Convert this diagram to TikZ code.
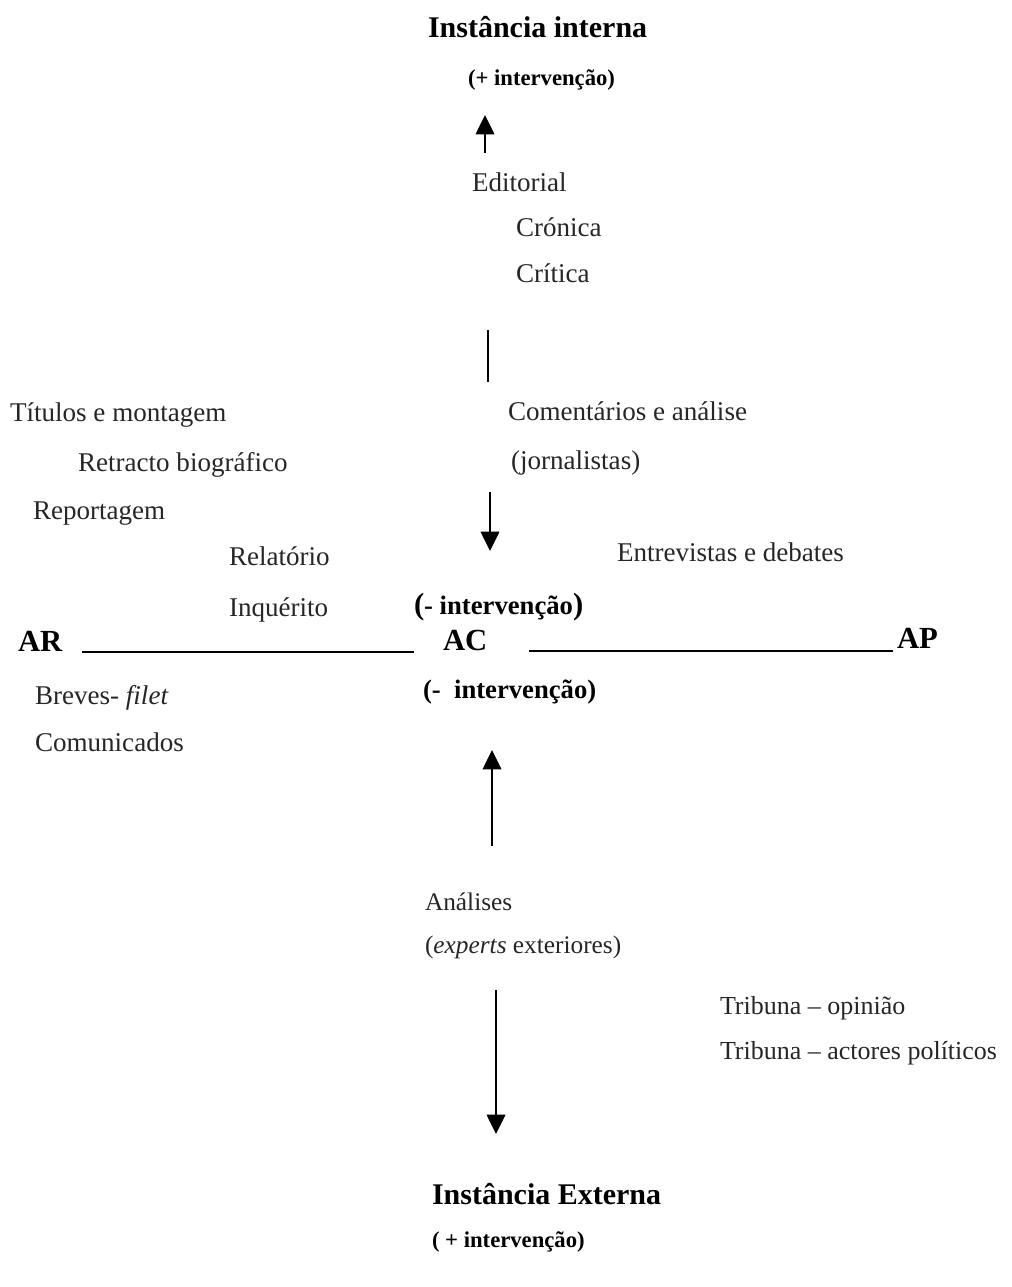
\documentclass[tikz,border=0pt]{standalone}
\usepackage{fontspec}
\setmainfont{Liberation Serif}
\usetikzlibrary{arrows.meta}
\begin{document}
\begin{tikzpicture}[x=0.75pt,y=-0.75pt,
  every node/.style={inner sep=0pt,outer sep=0pt,anchor=base west},
  body/.style={font=\fontsize{20.3}{24}\selectfont,text=black!85},
  head/.style={font=\fontsize{22.5}{26}\selectfont\bfseries},
  small/.style={font=\fontsize{17}{20}\selectfont\bfseries},
  mid/.style={font=\fontsize{20}{24}\selectfont\bfseries},
  axis/.style={font=\fontsize{23}{26}\selectfont\bfseries},
  conn/.style={line width=1.1pt,draw=black},
  arr/.style={conn,-{Triangle[length=14.5pt,width=14pt]}}]
\useasboundingbox (0,0) rectangle (1012,1287);
% top
\node[head] (ii) at (428,38) {Instância interna};
\node[small] (ii2) at (468,86) {(+ intervenção)};
\coordinate (a1s) at (485,153);
\coordinate (a1e) at (485,115);
\draw[arr] (a1s) -- (a1e);
\node[body] (ed) at (472,192) {Editorial};
\node[body] (cr) at (516,237) {Crónica};
\node[body] (crit) at (516,282) {Crítica};
\coordinate (l1s) at (488,330);
\coordinate (l1e) at (488,382);
\draw[conn] (l1s) -- (l1e);
% middle upper
\node[body] (tit) at (10,421) {Títulos e montagem};
\node[body] (com) at (508,420) {Comentários e análise};
\node[body] (ret) at (78,471) {Retracto biográfico};
\node[body] (jor) at (511,469) {(jornalistas)};
\node[body] (rep) at (33,519) {Reportagem};
\coordinate (a2s) at (490,492);
\coordinate (a2e) at (490,551);
\draw[arr] (a2s) -- (a2e);
\node[body] (rel) at (229,565) {Relatório};
\node[body] (ent) at (617,561) {Entrevistas e debates};
\node[body] (inq) at (229,616) {Inquérito};
\node[mid] (mi1) at (414,614) {{\fontsize{23}{26}\selectfont(}- intervenção{\fontsize{23}{26}\selectfont)}};
% axis
\node[axis] (ar) at (18,651) {AR};
\node[axis] (ac) at (443,650) {AC};
\node[axis] (ap) at (897,648) {AP};
\coordinate (h1s) at (82,652);
\coordinate (h1e) at (414,652);
\coordinate (h2s) at (529,651);
\coordinate (h2e) at (893,651);
\draw[conn,line width=1pt] (h1s) -- (h1e);
\draw[conn,line width=1pt] (h2s) -- (h2e);
% lower
\node[body] (bre) at (35,704) {Breves- \textit{filet}};
\node[mid] (mi2) at (423,698) {(-\ \ intervenção)};
\node[body] (comu) at (35,751) {Comunicados};
\coordinate (a3s) at (492,846);
\coordinate (a3e) at (492,750);
\draw[arr] (a3s) -- (a3e);
\node[body,font=\fontsize{19}{22}\selectfont] (ana) at (425,910) {Análises};
\node[body,font=\fontsize{19}{22}\selectfont] (exp) at (425,953) {(\textit{experts} exteriores)};
\coordinate (a4s) at (496,990);
\coordinate (a4e) at (496,1134);
\draw[arr] (a4s) -- (a4e);
\node[body,font=\fontsize{19.5}{22}\selectfont] (tr1) at (720,1014) {Tribuna -- opinião};
\node[body,font=\fontsize{19.5}{22}\selectfont] (tr2) at (720,1059) {Tribuna -- actores políticos};
\node[head] (ie) at (432,1204) {Instância Externa};
\node[small] (ie2) at (432,1247) {( + intervenção)};
\end{tikzpicture}
\end{document}
